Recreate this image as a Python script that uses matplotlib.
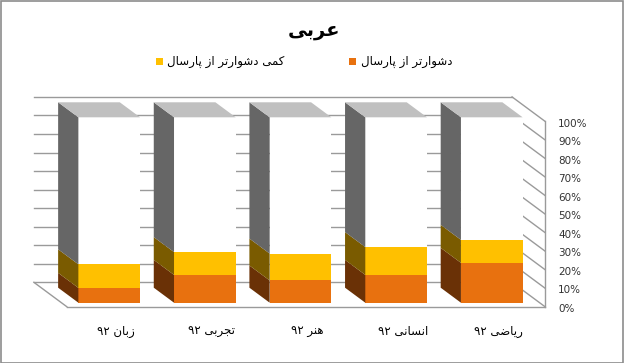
import matplotlib
matplotlib.use('Agg')
import matplotlib.pyplot as plt
from matplotlib.patches import Polygon, Rectangle

# data, left to right as drawn
categories = ['زبان ۹۲', 'تجربی ۹۲', 'هنر ۹۲', 'انسانی ۹۲', 'ریاضی ۹۲']
harder = [8, 15, 12, 15, 21.5]
slightly_harder = [12.7, 12.3, 14.5, 15, 12.4]
rest = [100 - a - b for a, b in zip(harder, slightly_harder)]
series_names = ['دشوارتر از پارسال', 'کمی دشوارتر از پارسال']
title = 'عربی'
yticks = list(range(0, 101, 10))

# simple arabic shaping (isolated, final, initial, medial)
FORMS = {
    'ا': ('\uFE8D', '\uFE8E', None, None),
    'ب': ('\uFE8F', '\uFE90', '\uFE91', '\uFE92'),
    'پ': ('\uFB56', '\uFB57', '\uFB58', '\uFB59'),
    'ت': ('\uFE95', '\uFE96', '\uFE97', '\uFE98'),
    'ج': ('\uFE9D', '\uFE9E', '\uFE9F', '\uFEA0'),
    'د': ('\uFEA9', '\uFEAA', None, None),
    'ر': ('\uFEAD', '\uFEAE', None, None),
    'ز': ('\uFEAF', '\uFEB0', None, None),
    'س': ('\uFEB1', '\uFEB2', '\uFEB3', '\uFEB4'),
    'ش': ('\uFEB5', '\uFEB6', '\uFEB7', '\uFEB8'),
    'ض': ('\uFEBD', '\uFEBE', '\uFEBF', '\uFEC0'),
    'ع': ('\uFEC9', '\uFECA', '\uFECB', '\uFECC'),
    'ک': ('\uFB8E', '\uFB8F', '\uFB90', '\uFB91'),
    'ل': ('\uFEDD', '\uFEDE', '\uFEDF', '\uFEE0'),
    'م': ('\uFEE1', '\uFEE2', '\uFEE3', '\uFEE4'),
    'ن': ('\uFEE5', '\uFEE6', '\uFEE7', '\uFEE8'),
    'ه': ('\uFEE9', '\uFEEA', '\uFEEB', '\uFEEC'),
    'و': ('\uFEED', '\uFEEE', None, None),
    'ی': ('\uFBFC', '\uFBFD', '\uFBFE', '\uFBFF'),
}


def shape_word(w):
    out = []
    for i, c in enumerate(w):
        if c not in FORMS:
            out.append(c)
            continue
        prev = i > 0 and w[i - 1] in FORMS and FORMS[w[i - 1]][2] is not None
        nxt = i < len(w) - 1 and w[i + 1] in FORMS and FORMS[c][2] is not None
        f = FORMS[c]
        if prev and nxt:
            out.append(f[3])
        elif prev:
            out.append(f[1])
        elif nxt:
            out.append(f[2])
        else:
            out.append(f[0])
    return ''.join(out)


def rtl(s):
    tokens = []
    for t in s.split(' '):
        if t.isdigit():
            tokens.append(t)
        else:
            tokens.append(shape_word(t)[::-1])
    return ' '.join(tokens[::-1])


W, H = 624, 363
fig = plt.figure(figsize=(W / 100, H / 100), dpi=100)
plt.rcParams['font.family'] = ['DejaVu Sans']

# front plane of the bars, in pixels
left_px, right_px = 61.4, 539.6
bottom_px, top_px = 302.7, 117.3
ax = fig.add_axes([left_px / W, 1 - bottom_px / H,
                   (right_px - left_px) / W, (bottom_px - top_px) / H])
ax.set_xlim(-0.5, 4.5)
ax.set_ylim(0, 100)
ax.axis('off')

PX_X = (right_px - left_px) / 5
PX_Y = (bottom_px - top_px) / 100
RATIO = 1.35


def off(d):
    # d: pixels of depth (positive = further back, up-left)
    return -RATIO * d / PX_X, d / PX_Y


grid_c = '#9a9a9a'
wall_dx, wall_dy = off(20.4)
floor_dx, floor_dy = off(-4)

# back wall gridlines
for v in yticks:
    ax.plot([-0.5 + wall_dx, 4.5 + wall_dx], [v + wall_dy, v + wall_dy],
            color=grid_c, lw=1, clip_on=False, zorder=1)
    # right wall diagonals
    ax.plot([4.5 + wall_dx, 4.5 + floor_dx], [v + wall_dy, v + floor_dy],
            color=grid_c, lw=1, clip_on=False, zorder=1)
# floor and right wall edges
ax.plot([-0.5 + wall_dx, -0.5 + floor_dx], [wall_dy, floor_dy],
        color=grid_c, lw=1, clip_on=False, zorder=1)
ax.plot([-0.5 + floor_dx, 4.5 + floor_dx], [floor_dy, floor_dy],
        color=grid_c, lw=1, clip_on=False, zorder=1)
ax.plot([4.5 + floor_dx, 4.5 + floor_dx], [floor_dy, 100 + floor_dy],
        color=grid_c, lw=1, clip_on=False, zorder=1)

# bars
bw = 0.645
bdx, bdy = off(15)
fronts = ['#E8710F', '#FFC000', '#FFFFFF']
sides = ['#6A3106', '#7A5B00', '#666666']
for i in range(len(categories)):
    x0, x1 = i - bw / 2, i + bw / 2
    base = 0
    for k, vals in enumerate([harder, slightly_harder, rest]):
        h = vals[i]
        ax.add_patch(Rectangle((x0, base), bw, h, facecolor=fronts[k],
                               edgecolor='none', zorder=3, clip_on=False))
        ax.add_patch(Polygon([(x0, base), (x0 + bdx, base + bdy),
                              (x0 + bdx, base + h + bdy), (x0, base + h)],
                             closed=True, facecolor=sides[k], edgecolor='none',
                             zorder=3, clip_on=False))
        base += h
    ax.add_patch(Polygon([(x0, base), (x1, base), (x1 + bdx, base + bdy),
                          (x0 + bdx, base + bdy)], closed=True,
                         facecolor='#C0C0C0', edgecolor='none', zorder=3,
                         clip_on=False))

# y labels on the right
for v in yticks:
    ax.text(4.5 + floor_dx + 13 / PX_X, v + floor_dy - 1.2, f'{v}%',
            fontsize=7.5, color='#333333', ha='left', va='center')

# category labels
for i, c in enumerate(categories):
    ax.text(i + 7 / PX_X, -28.5 / PX_Y, rtl(c), fontsize=8.5,
            ha='center', va='center', clip_on=False)

# title and legend
fig.text(314 / W, 1 - 30 / H, rtl(title), fontsize=14, fontweight='bold',
         ha='center', va='center')
leg = [(156, 167, series_names[1], '#FFC000'),
       (349, 361, series_names[0], '#E8710F')]
for sx, tx, name, col in leg:
    fig.patches.append(Rectangle((sx / W, 1 - 65 / H), 7 / W, 7 / H,
                                 transform=fig.transFigure, facecolor=col,
                                 edgecolor='none'))
    fig.text(tx / W, 1 - 62 / H, rtl(name), fontsize=8.5, ha='left',
             va='center')

# chart border
fig.patches.append(Rectangle((0.5 / W, 0.5 / H), (W - 1.5) / W, (H - 1.5) / H,
                             transform=fig.transFigure, fill=False,
                             edgecolor='#8c8c8c', lw=1.2))

fig.savefig('out.png', dpi=100)
